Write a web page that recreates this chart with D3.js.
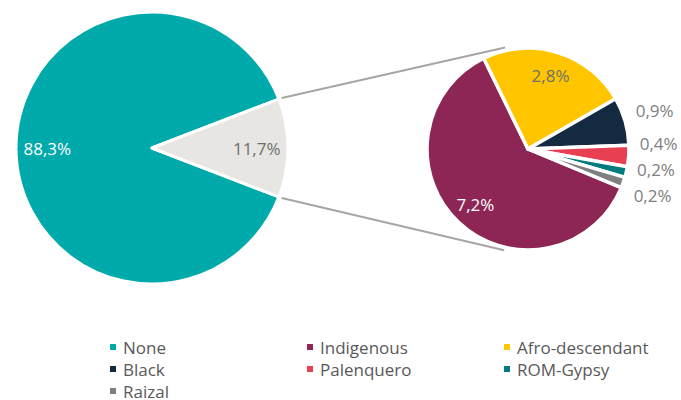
<!DOCTYPE html>
<html>

<head>
    <meta charset="utf-8">
    <title>Pie of pie - ethnic self-recognition</title>
    <style>
        body {
            margin: 0;
            background: #ffffff;
        }

        text {
            font-family: "Open Sans", "Noto Sans", sans-serif;
        }
    </style>
    <script src="https://d3js.org/d3.v7.min.js"></script>
</head>

<body>
    <script>
        // main pie: "None" vs everything else
        let mainCats = ["None", "Other"];
        let mainVals = [88.3, 11.7];
        let mainLabels = ["88,3%", "11,7%"];

        // secondary pie splits the 11,7%
        let subCats = ["Indigenous", "Afro-descendant", "Black", "Palenquero", "ROM-Gypsy", "Raizal"];
        let subVals = [7.2, 2.8, 0.9, 0.4, 0.2, 0.2];
        let subLabels = ["7,2%", "2,8%", "0,9%", "0,4%", "0,2%", "0,2%"];

        let legendCats = ["None", "Indigenous", "Afro-descendant", "Black", "Palenquero", "ROM-Gypsy", "Raizal"];

        let colors = {
            "None": "#00a9aa",
            "Other": "#e7e6e2",
            "Indigenous": "#8d2654",
            "Afro-descendant": "#ffc600",
            "Black": "#132a41",
            "Palenquero": "#e83f53",
            "ROM-Gypsy": "#007b7e",
            "Raizal": "#7f7f7f"
        };

        let width = 681;
        let height = 400;
        let deg = Math.PI / 180;

        let svg = d3.select("body")
            .append("svg")
            .attr("width", width)
            .attr("height", height);

        // ---- main pie ----
        let cx1 = 152, cy1 = 148, r1 = 136;
        let otherShare = mainVals[1] / d3.sum(mainVals);
        let start1 = Math.PI / 2 + Math.PI * otherShare;   // "Other" centred on the right

        let pie1 = d3.pie().sort(null).value(d => d.v)
            .startAngle(start1).endAngle(start1 + 2 * Math.PI);
        let arcs1 = pie1(mainCats.map((c, i) => ({ c: c, v: mainVals[i], l: mainLabels[i] })));
        let arc1 = d3.arc().innerRadius(0).outerRadius(r1);
        let lab1 = d3.arc().innerRadius(r1 * 0.77).outerRadius(r1 * 0.77);

        let g1 = svg.append("g").attr("transform", `translate(${cx1}, ${cy1})`);
        g1.selectAll("path")
            .data(arcs1)
            .enter()
            .append("path")
            .attr("d", arc1)
            .style("fill", d => colors[d.data.c])
            .style("stroke", "#fff")
            .style("stroke-width", 3)
            .style("stroke-linejoin", "round");

        g1.selectAll("text")
            .data(arcs1)
            .enter()
            .append("text")
            .attr("x", d => lab1.centroid(d)[0])
            .attr("y", d => lab1.centroid(d)[1])
            .attr("text-anchor", "middle")
            .attr("dominant-baseline", "central")
            .style("font-size", "17px")
            .style("fill", d => d.data.c == "None" ? "#ffffff" : "#6e6e6e")
            .text(d => d.data.l);

        // ---- secondary pie ----
        let cx2 = 528, cy2 = 149, r2 = 101;
        let subTotal = d3.sum(subVals);
        // Afro-descendant begins a little left of 12 o'clock, Indigenous fills the rest
        let start2 = -26 * deg - 2 * Math.PI * subVals[0] / subTotal;

        let pie2 = d3.pie().sort(null).value(d => d.v)
            .startAngle(start2).endAngle(start2 + 2 * Math.PI);
        let arcs2 = pie2(subCats.map((c, i) => ({ c: c, v: subVals[i], l: subLabels[i] })));
        let arc2 = d3.arc().innerRadius(0).outerRadius(r2);
        let lab2 = d3.arc().innerRadius(r2 * 0.76).outerRadius(r2 * 0.76);

        let g2 = svg.append("g").attr("transform", `translate(${cx2}, ${cy2})`);
        g2.selectAll("path")
            .data(arcs2)
            .enter()
            .append("path")
            .attr("d", arc2)
            .style("fill", d => colors[d.data.c])
            .style("stroke", "#fff")
            .style("stroke-width", 3.5)
            .style("stroke-linejoin", "round");

        let inside = arcs2.filter(d => d.endAngle - d.startAngle > 0.6);
        let outside = arcs2.filter(d => d.endAngle - d.startAngle <= 0.6);

        g2.selectAll("text.in")
            .data(inside)
            .enter()
            .append("text")
            .attr("class", "in")
            .attr("x", d => lab2.centroid(d)[0])
            .attr("y", d => lab2.centroid(d)[1])
            .attr("text-anchor", "middle")
            .attr("dominant-baseline", "central")
            .style("font-size", "17px")
            .style("fill", d => d.data.c == "Indigenous" ? "#ffffff" : "#6e6e6e")
            .text(d => d.data.l);

        // outside labels: start on the ring, then push apart from the bottom up
        outside.forEach(d => {
            let m = (d.startAngle + d.endAngle) / 2;
            d.lx = (r2 + 11) * Math.sin(m);
            d.ly = -(r2 + 40) * Math.cos(m);
        });
        for (let i = outside.length - 2; i >= 0; i--) {
            outside[i].ly = Math.min(outside[i].ly, outside[i + 1].ly - 26);
        }

        g2.selectAll("text.out")
            .data(outside)
            .enter()
            .append("text")
            .attr("class", "out")
            .attr("x", d => d.lx)
            .attr("y", d => d.ly)
            .attr("text-anchor", "start")
            .attr("dominant-baseline", "central")
            .style("font-size", "17px")
            .style("fill", "#808080")
            .text(d => d.data.l);

        // ---- connector lines, tangent to the secondary pie ----
        let otherArc = arcs1[1];
        let edges = [otherArc.startAngle, otherArc.endAngle];   // upper edge, lower edge
        let R = r2 + 3;
        edges.forEach((a, k) => {
            let px = cx1 + (r1 + 3) * Math.sin(a);
            let py = cy1 - (r1 + 3) * Math.cos(a);
            let dx = px - cx2, dy = py - cy2;
            let d = Math.sqrt(dx * dx + dy * dy);
            let base = Math.atan2(dy, dx);
            let off = Math.acos(R / d);
            let t = k == 0 ? base + off : base - off;
            svg.append("line")
                .attr("x1", px)
                .attr("y1", py)
                .attr("x2", cx2 + R * Math.cos(t))
                .attr("y2", cy2 + R * Math.sin(t))
                .style("stroke", "#a6a6a6")
                .style("stroke-width", 2);
        });

        // ---- legend ----
        let col = d3.scaleOrdinal().domain([0, 1, 2]).range([110, 307, 504]);
        let row = d3.scaleLinear().domain([0, 1]).range([347, 369]);

        let leg = svg.selectAll("g.leg")
            .data(legendCats)
            .enter()
            .append("g")
            .attr("class", "leg")
            .attr("transform", (d, i) => `translate(${col(i % 3)}, ${row(Math.floor(i / 3))})`);

        leg.append("rect")
            .attr("x", 0)
            .attr("y", -3)
            .attr("width", 6)
            .attr("height", 6)
            .style("fill", d => colors[d]);

        leg.append("text")
            .attr("x", 13)
            .attr("y", 0)
            .attr("dominant-baseline", "central")
            .style("font-size", "17px")
            .style("fill", "#595959")
            .text(d => d);
    </script>
</body>

</html>
